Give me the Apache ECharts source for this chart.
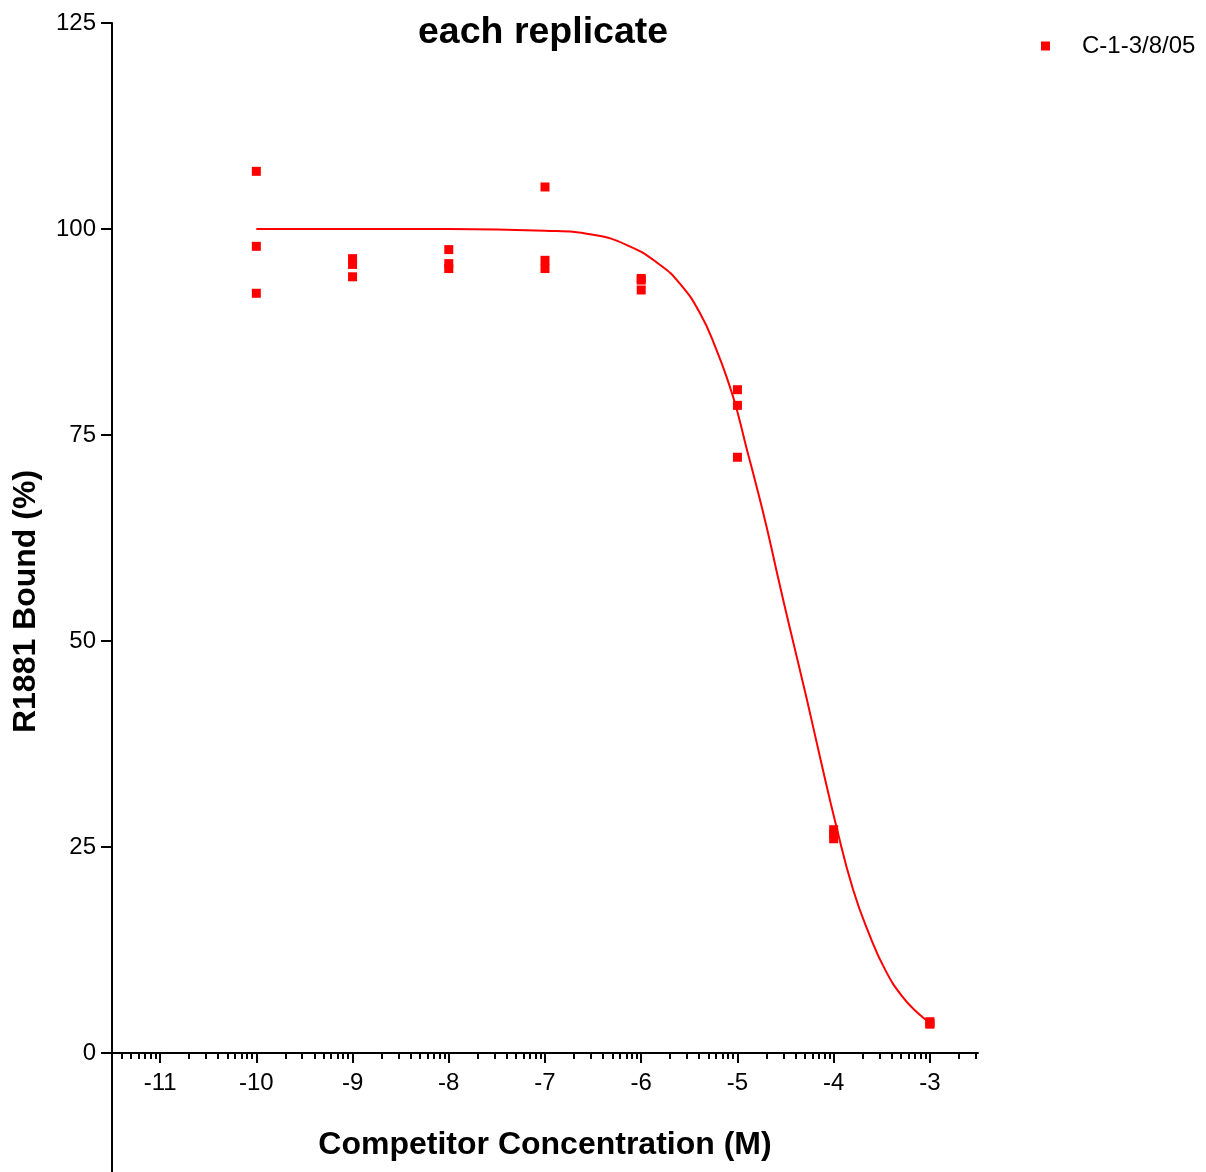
<!DOCTYPE html>
<html>
<head>
<meta charset="utf-8">
<title>each replicate</title>
<script src="https://cdn.jsdelivr.net/npm/echarts@6/dist/echarts.min.js"></script>
<style>
  html, body { margin: 0; padding: 0; background: #ffffff; }
  #chart { width: 1206px; height: 1172px; }
</style>
</head>
<body>
<div id="chart"></div>
<script>
const logConc = [-10, -9, -8, -7, -6, -5, -4, -3]
const rep1 = [107.0, 96.4, 97.5, 105.1, 94.0, 80.5, 27.1, 3.8]
const rep2 = [97.9, 95.7, 95.8, 96.2, 93.8, 78.6, 26.6, 3.6]
const rep3 = [92.2, 94.2, 95.2, 95.2, 92.6, 72.3, 26.0, 3.5]

// fitted curve
const fitX = [-10, -9, -8, -7, -6.5, -6.12, -5.81, -5.6, -5.39, -5.22, -5.08, -5.0, -4.91, -4.84,
  -4.7, -4.58, -4.46, -4.28, -4.14, -3.97, -3.8, -3.63, -3.46, -3.29, -3.12, -3.0]
const fitY = [100, 100, 100, 99.8, 99.3, 97.9, 95.7, 93.4, 89.8, 85.4, 80.9, 77.8, 73.6, 70.5,
  64.0, 57.8, 51.8, 43.0, 35.8, 27.4, 19.9, 14.4, 10.0, 6.9, 4.8, 3.7]

const xTicks = [-11, -10, -9, -8, -7, -6, -5, -4, -3]
const yTicks = [0, 25, 50, 75, 100, 125]
const seriesName = 'C-1-3/8/05'

const font = '"Liberation Sans", Arial, sans-serif'

// log-decade minor ticks between the integer exponents
const minorTicks = []
for (let n = -12; n <= -3; n++) {
  for (let k = 2; k <= 9; k++) {
    const v = n + Math.log10(k)
    if (v > -11.5 && v < -2.5) minorTicks.push(v)
  }
}

const points = []
logConc.forEach((x, i) => {
  points.push([x, rep1[i]], [x, rep2[i]], [x, rep3[i]])
})
const fitData = fitX.map((x, i) => [x, fitY[i]])

// y axis runs below zero; both x axes are lifted from the grid bottom to y = 0
const zeroOffset = -119

const chart = echarts.init(document.getElementById('chart'))
chart.setOption({
  backgroundColor: '#ffffff',
  animation: false,
  textStyle: { fontFamily: font },
  title: {
    text: 'each replicate',
    left: 418,
    top: 14,
    padding: 0,
    textStyle: { fontSize: 37.5, fontWeight: 'bold', color: '#000', fontFamily: font }
  },
  legend: {
    left: 1041,
    top: 34,
    padding: 0,
    icon: 'rect',
    itemWidth: 9,
    itemHeight: 9,
    data: [seriesName],
    textStyle: { fontSize: 24, color: '#000', fontFamily: font, padding: [0, 0, 0, 27] }
  },
  grid: {
    left: 112,
    right: 228,
    top: 23,
    bottom: 0,
    outerBoundsMode: 'none',
    containLabel: false
  },
  xAxis: [{
    type: 'value',
    min: -11.5,
    max: -2.5,
    position: 'bottom',
    offset: zeroOffset,
    name: 'Competitor Concentration (M)',
    nameLocation: 'middle',
    nameGap: 76,
    nameTextStyle: { fontSize: 32, fontWeight: 'bold', color: '#000', fontFamily: font },
    axisLine: { onZero: false, lineStyle: { color: '#000', width: 2 } },
    axisTick: { show: true, customValues: xTicks, length: 10, lineStyle: { color: '#000', width: 2 } },
    axisLabel: {
      customValues: xTicks,
      margin: 18,
      fontSize: 24,
      color: '#000',
      fontFamily: font,
      formatter: v => String(v)
    },
    splitLine: { show: false }
  }, {
    // minor ticks only
    type: 'value',
    min: -11.5,
    max: -2.5,
    position: 'bottom',
    offset: zeroOffset,
    axisLine: { show: false, onZero: false },
    axisTick: { show: true, customValues: minorTicks, length: 6, lineStyle: { color: '#000', width: 2 } },
    axisLabel: { show: false },
    splitLine: { show: false }
  }],
  yAxis: {
    type: 'value',
    min: -14.44,
    max: 125,
    name: 'R1881 Bound (%)',
    nameLocation: 'middle',
    nameGap: 70,
    nameTextStyle: { fontSize: 32, fontWeight: 'bold', color: '#000', fontFamily: font, padding: [0, 8, 0, 0] },
    axisLine: { show: true, onZero: false, lineStyle: { color: '#000', width: 2 } },
    axisTick: { show: true, customValues: yTicks, length: 11, lineStyle: { color: '#000', width: 2 } },
    axisLabel: { customValues: yTicks, margin: 16, fontSize: 24, color: '#000', fontFamily: font },
    splitLine: { show: false }
  },
  series: [
    {
      name: seriesName,
      type: 'scatter',
      symbol: 'rect',
      symbolSize: 9,
      itemStyle: { color: '#ff0000', opacity: 1 },
      data: points,
      z: 3
    },
    {
      name: 'fit',
      type: 'line',
      smooth: 0.5,
      showSymbol: false,
      lineStyle: { color: '#ff0000', width: 2 },
      itemStyle: { color: '#ff0000' },
      data: fitData,
      z: 2
    }
  ]
})
</script>
</body>
</html>
